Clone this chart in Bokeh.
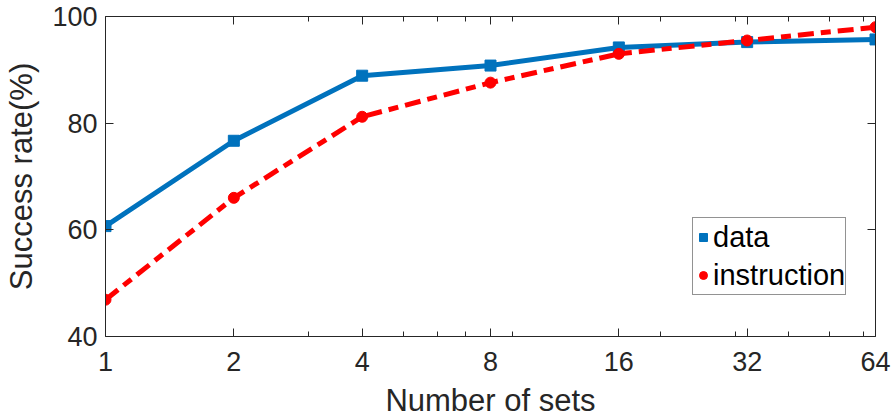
from bokeh.plotting import figure
from bokeh.models import (FixedTicker, LogAxis, LinearAxis, Legend, LegendItem,
                          Range1d, BasicTickFormatter, CustomLabelingPolicy)
from bokeh.embed import file_html
from bokeh.resources import INLINE

# Success rate versus number of sets
sets = [1, 2, 4, 8, 16, 32, 64]
data_rate = [60.7, 76.7, 88.9, 90.8, 94.2, 95.2, 95.7]
instruction_rate = [46.9, 66.0, 81.2, 87.6, 93.0, 95.5, 98.0]

x_ticks = [1, 2, 4, 8, 16, 32, 64]
x_minor = [3, 5, 6, 7, 9, 20, 30, 40, 50, 60]
y_ticks = [40, 60, 80, 100]

FONT = "Liberation Sans"
INK = "#262626"
BLUE = "#0072BD"
RED = "#FF0000"

p = figure(width=894, height=420, x_axis_type="log",
           x_range=Range1d(1, 64), y_range=Range1d(40, 100),
           output_backend="svg", toolbar_location=None,
           min_border_left=105, min_border_right=19,
           min_border_top=16, min_border_bottom=84)
p.xgrid.grid_line_color = None
p.ygrid.grid_line_color = None
p.outline_line_color = None
p.background_fill_color = "white"
p.border_fill_color = "white"

# plotted series
l1 = p.line(sets, data_rate, line_color=BLUE, line_width=5)
s1 = p.scatter(sets, data_rate, marker="square", size=11,
               fill_color=BLUE, line_color=BLUE)
l2 = p.line(sets, instruction_rate, line_color=RED, line_width=5,
            line_dash="16 7 10 7")
s2 = p.scatter(sets, instruction_rate, marker="circle", size=11,
               fill_color=RED, line_color=RED)

def style_axis(ax, ticker, show_labels):
    ax.ticker = ticker
    ax.axis_line_color = INK
    ax.axis_line_width = 1
    ax.major_tick_line_color = INK
    ax.minor_tick_line_color = INK
    ax.major_tick_in = 8
    ax.major_tick_out = 0
    ax.minor_tick_in = 5
    ax.minor_tick_out = 0
    ax.major_label_text_font = FONT
    ax.major_label_text_color = INK
    if show_labels:
        ax.major_label_text_font_size = "27px"
    else:
        # box edges: ticks only, no labels
        ax.major_label_text_font_size = "0px"
        ax.major_label_standoff = 0
        ax.major_label_policy = CustomLabelingPolicy(code="return []")

xt = FixedTicker(ticks=x_ticks, minor_ticks=x_minor)
yt = FixedTicker(ticks=y_ticks, minor_ticks=[])

xa = p.xaxis[0]
style_axis(xa, xt, True)
xa.formatter = BasicTickFormatter()
xa.major_label_standoff = 15
xa.axis_label = "Number of sets"
xa.axis_label_text_font = FONT
xa.axis_label_text_font_size = "31px"
xa.axis_label_text_font_style = "normal"
xa.axis_label_text_color = INK
xa.axis_label_standoff = 9

ya = p.yaxis[0]
style_axis(ya, yt, True)
ya.major_label_standoff = 8
ya.axis_label = "Success rate(%)"
ya.axis_label_text_font = FONT
ya.axis_label_text_font_size = "31px"
ya.axis_label_text_font_style = "normal"
ya.axis_label_text_color = INK
ya.axis_label_standoff = 10

top = LogAxis()
style_axis(top, FixedTicker(ticks=x_ticks, minor_ticks=x_minor), False)
p.add_layout(top, "above")
right = LinearAxis()
style_axis(right, FixedTicker(ticks=y_ticks, minor_ticks=[]), False)
p.add_layout(right, "right")

legend = Legend(items=[LegendItem(label="data", renderers=[s1]),
                       LegendItem(label="instruction", renderers=[s2])],
                location=(587, 41), orientation="vertical",
                glyph_width=20, glyph_height=38, label_standoff=0,
                padding=0, spacing=0, margin=0,
                label_text_font=FONT, label_text_font_size="29px",
                label_text_color="black",
                border_line_color=INK, border_line_width=1,
                background_fill_color="white", background_fill_alpha=1)
p.add_layout(legend, "center")

open("out.html", "w").write(file_html(p, INLINE))
